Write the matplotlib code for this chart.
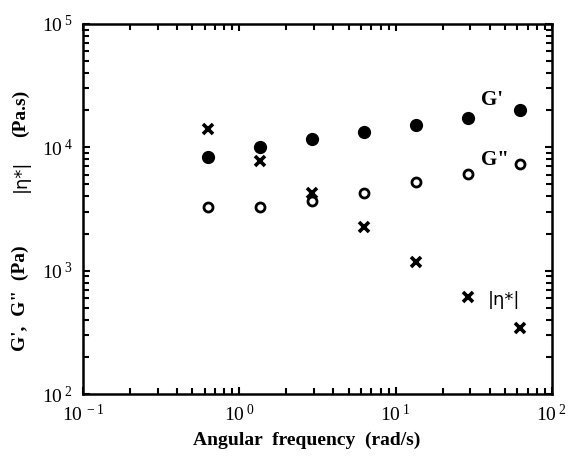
import numpy as np
import matplotlib.pyplot as plt
from matplotlib.ticker import LogLocator, FixedLocator, FixedFormatter, NullFormatter

plt.rcParams['font.family'] = 'Liberation Serif'
plt.rcParams['mathtext.fontset'] = 'custom'
plt.rcParams['mathtext.rm'] = 'Liberation Serif'
plt.rcParams['mathtext.it'] = 'Liberation Serif:italic'

# Frequency sweep data (rad/s), moduli in Pa, complex viscosity in Pa.s
omega = np.array([0.628, 1.35, 2.92, 6.28, 13.5, 29.2, 62.8])
g_storage = np.array([8340, 10000, 11600, 13400, 15100, 17400, 20100])
g_loss = np.array([3260, 3260, 3670, 4240, 5260, 6070, 7280])
eta_star = np.array([14100, 7740, 4280, 2270, 1180, 614, 344])

fig = plt.figure(figsize=(5.7, 4.58), dpi=100)
ax = fig.add_axes([0.1456, 0.1397, 0.8228, 0.8079])

ax.plot(omega, g_storage, 'o', color='black', markersize=8.5, linestyle='none')
ax.plot(omega, g_loss, 'o', markerfacecolor='white', markeredgecolor='black',
        markersize=6.5, markeredgewidth=2, linestyle='none')
ax.plot(omega, eta_star, 'x', color='black', markersize=6.5, markeredgewidth=2.6,
        linestyle='none')

ax.set_xscale('log')
ax.set_yscale('log')
ax.set_xlim(0.1, 100)
ax.set_ylim(100, 1e5)

xdec = [-1, 0, 1, 2]
ydec = [2, 3, 4, 5]
ax.xaxis.set_major_locator(FixedLocator([10.0 ** d for d in xdec]))
ax.xaxis.set_major_formatter(FixedFormatter([r'$10^{\ %d}$' % d for d in xdec]))
ax.yaxis.set_major_locator(FixedLocator([10.0 ** d for d in ydec]))
ax.yaxis.set_major_formatter(FixedFormatter([r'$10^{\ %d}$' % d for d in ydec]))
for axis in (ax.xaxis, ax.yaxis):
    axis.set_minor_locator(LogLocator(base=10, subs=np.arange(2, 10), numticks=20))
    axis.set_minor_formatter(NullFormatter())

ax.tick_params(which='both', direction='in', top=True, right=True, width=1.5,
               labelsize=14, pad=7)
ax.tick_params(which='major', length=5)
ax.tick_params(which='minor', length=4)
for sp in ax.spines.values():
    sp.set_linewidth(1.8)

ax.set_xlabel('Angular  frequency  (rad/s)', fontsize=14, fontweight='bold')
ax.xaxis.set_label_coords(0.478, -0.103)

# y-axis title built from pieces: serif bold units, sans |eta*|
fig.text(0.036, 1 - 298 / 458, "G',  G\"  (Pa)", rotation=90, ha='center',
         va='center', fontsize=14, fontweight='bold')
fig.text(0.036, 1 - 176 / 458, '|η*|', rotation=90, ha='center', va='center',
         fontsize=13, family='DejaVu Sans')
fig.text(0.036, 1 - 113 / 458, '(Pa.s)', rotation=90, ha='center', va='center',
         fontsize=14, fontweight='bold')

ax.text(35, 24200, "G'", fontsize=15, fontweight='bold', va='center')
ax.text(35, 7900, 'G"', fontsize=15, fontweight='bold', va='center')
ax.text(39, 580, '|η*|', fontsize=13, family='DejaVu Sans', va='center')

fig.savefig('out.png', dpi=100)
